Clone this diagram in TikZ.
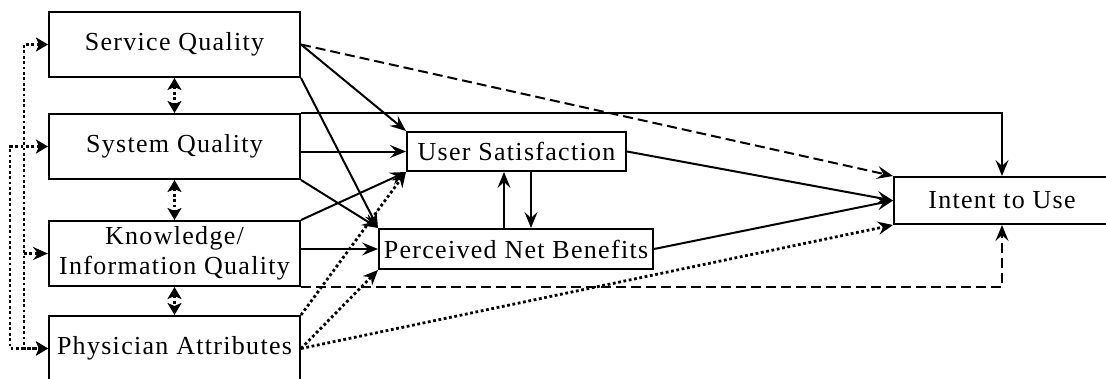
\documentclass[tikz,border=0pt]{standalone}
\usepackage{fontspec}
\setmainfont{Liberation Serif}[LetterSpace=5]
\usetikzlibrary{arrows.meta,calc}

\tikzset{
  box/.style={draw, line width=2pt, rectangle, inner sep=0pt, align=center,
    font=\fontsize{26}{30}\selectfont},
  link/.style={line width=2pt, -{Stealth[length=16pt,width=13pt,inset=6pt]}},
  dashlink/.style={link, dash pattern=on 10pt off 5pt},
  dotlink/.style={line width=2.8pt, dash pattern=on 2.8pt off 2.6pt,
    -{Stealth[length=15pt,width=13pt,inset=5pt]}},
  dotpair/.style={line width=2.8pt, dash pattern=on 2.8pt off 2.6pt,
    {Stealth[length=12pt,width=14pt,inset=3pt]}-{Stealth[length=12pt,width=14pt,inset=3pt]}},
}

\begin{document}
\begin{tikzpicture}[x=1pt,y=-1pt]
\useasboundingbox (0,0) rectangle (1106,378);
\clip (0,0) rectangle (1106,378);

% quality constructs on the left
\node[box, minimum width=251pt, minimum height=65pt] (sq)  at (174.5,44.5)  {Service Quality};
\node[box, minimum width=251pt, minimum height=65pt] (sys) at (174.5,146.5) {System Quality};
\node[box, minimum width=251pt, minimum height=65pt] (kq)  at (174.5,253.5) {Knowledge/\\Information Quality};
\node[box, minimum width=251pt, minimum height=65pt] (pa)  at (174.5,348.5) {Physician Attributes};

% mediators and outcome
\node[box, minimum width=219pt, minimum height=39pt] (us)  at (516.5,151.5) {User Satisfaction};
\node[box, minimum width=274pt, minimum height=40pt] (pnb) at (516,249)     {Perceived Net Benefits};
\node[box, minimum width=216pt, minimum height=47pt] (itu) at (1002,200.5)  {Intent to Use};

% correlations among the left constructs
\draw[dotpair] (sq.south) -- (sys.north);
\draw[dotpair] (sys.south) -- (kq.north);
\draw[dotpair] (kq.south) -- (pa.north);

% outer feedback lines on the far left
\coordinate (inner) at (24,0);
\coordinate (outer) at (10,0);
\draw[dotpair] (sq.west) -- (sq.west -| inner) |- (pa.west);
\draw[dotlink] (kq.west -| inner) -- (kq.west);
\draw[dotpair] (sys.west) -- (sys.west -| outer) |- (pa.west);

% service quality
\draw[dashlink] (sq.east) -- (itu.north west);
\draw[link] (sq.east) -- (us.north west);
\draw[link] (sq.south east) -- (pnb.north west);

% system quality
\draw[link] (sys.north east) -- (sys.north east -| itu.north) -- (itu.north);
\draw[link] (sys.east |- us.west) -- (us.west);
\draw[link] (sys.south east) -- (pnb.north west);

% knowledge / information quality
\draw[link] (kq.north east) -- (us.south west);
\draw[link] (kq.east |- pnb.west) -- (pnb.west);
\draw[dashlink] (kq.south east) -- (kq.south east -| itu.south) -- (itu.south);

% physician attributes
\draw[dotlink] (pa.north east) -- (us.south west);
\draw[dotlink] (pa.east) -- (pnb.south west);
\draw[dotlink] (pa.east) -- (itu.south west);

% satisfaction <-> net benefits
\draw[link] ($(pnb.north)+(-12,0)$) -- ($(us.south)+(-12.5,0)$);
\draw[link] ($(us.south)+(14.5,0)$) -- ($(pnb.north)+(15,0)$);

% into intent to use
\draw[link] (us.east) -- (itu.west);
\draw[link] (pnb.east) -- (itu.west);
\end{tikzpicture}
\end{document}
